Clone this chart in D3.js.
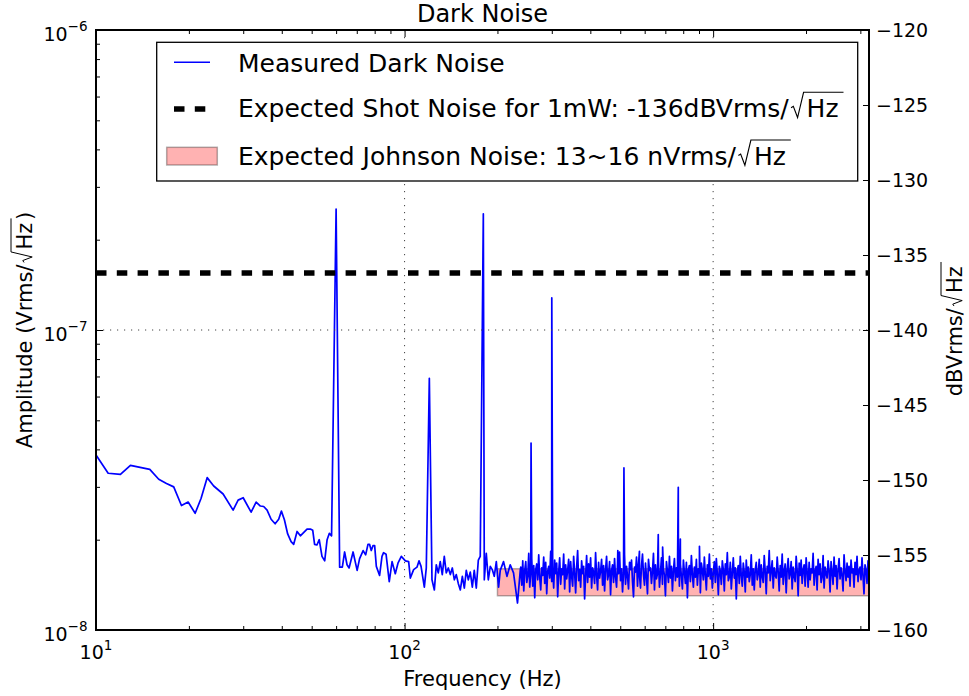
<!DOCTYPE html>
<html>
<head>
<meta charset="utf-8">
<script src="https://cdn.jsdelivr.net/npm/d3@7"></script>
<style>
body { margin: 0; background: #fff; }
svg { display: block; }
text { font-family: "DejaVu Sans", sans-serif; fill: #000; }
</style>
</head>
<body>
<svg id="chart" width="969" height="696"></svg>
<script>
// measured spectrum below ~240 Hz (Hz, nVrms/rtHz)
var lowFreq = [10, 10.95, 12.0, 12.93, 14.94, 15.97, 16.92, 17.86, 18.92, 19.89,
  20.96, 21.91, 22.92, 24.07, 25.82, 27.82, 28.88, 29.99, 31.82, 33.03,
  34.10, 34.95, 35.85, 36.94, 38.06, 39.09, 39.89, 40.79, 41.8, 42.88,
  43.72, 44.84, 45.95, 48.3, 49.5, 50.4, 51.1, 52.0, 52.9, 54.0,
  55.1, 56.1, 57.05, 58.0, 61.6, 62.85, 63.93, 65.1, 66.1, 68.1,
  70.2, 71.5, 73.4, 74.8, 76.1, 77.0, 78.0, 79.0, 80.0, 81.0,
  83.0, 84.5, 85.5, 87.1, 89.2, 91.1, 93.3, 95.2, 97.6, 100.6,
  103.1, 104.4, 107.0, 109.7, 111.4, 113.1, 115.9, 117.6, 122.7, 124.9,
  126.7, 128.6, 130.5, 132.5, 134.5, 136.5, 138.6, 140.7, 142.8, 145.0,
  147.1, 149.3, 151.6, 153.9, 156.2, 158.5, 160.9, 163.3, 165.8, 168.2,
  170.8, 173.4, 175.9, 181.3, 184.0, 186.8, 189.6, 192.4, 195.3, 198.3,
  201.7, 204.2, 209.3, 214.7, 220.0, 225.5, 232.3, 237.1];
var lowAmp = [38.3, 33.3, 33.0, 35.4, 34.3, 31.8, 30.8, 30.0, 26.0, 26.7,
  24.5, 27.5, 32.2, 30.2, 28.4, 25.1, 27.1, 27.6, 24.7, 26.7,
  25.9, 25.8, 25.1, 23.4, 22.6, 23.4, 24.9, 23.3, 20.9, 19.7,
  19.3, 21.3, 20.6, 21.7, 21.7, 21.5, 19.3, 19.2, 20.0, 17.6,
  17.0, 20.0, 21.0, 20.6, 16.2, 16.2, 18.2, 16.5, 16.1, 18.2,
  15.8, 17.3, 18.4, 17.8, 19.3, 19.3, 18.4, 19.1, 19.1, 16.3,
  15.2, 17.6, 18.1, 17.9, 14.5, 16.9, 15.4, 16.7, 17.6, 17.0,
  16.9, 14.9, 15.9, 16.2, 17.0, 16.3, 13.9, 16.1, 14.7, 13.6,
  16.5, 15.5, 16.9, 15.3, 17.6, 15.5, 16.1, 15.3, 16.1, 14.7,
  15.3, 14.3, 13.6, 15.1, 13.8, 15.8, 14.7, 15.6, 13.9, 15.8,
  13.8, 17.1, 17.6, 14.7, 18.0, 14.7, 16.3, 15.9, 15.1, 16.9,
  13.9, 15.8, 16.9, 15.1, 16.5, 15.5, 12.3, 15.8];

// line peaks (Hz, nVrms/rtHz)
var spikeFreq = [60, 120.3, 180, 257, 300, 491, 514, 577, 664, 686, 771, 783, 903];
var spikeAmp = [253, 69, 244, 42, 128, 18.4, 34.7, 18.3, 20.8, 18.9, 29.9, 20.1, 19.0];

// dense noise floor, spread evenly (log) from noiseStartHz to noiseEndHz
var noiseStartHz = 238, noiseEndHz = 3200;
var noiseAmp = [
  16.2, 14.1, 17.0, 13.5, 15.8, 16.9, 14.4, 15.1, 18.0, 13.9,
  15.5, 17.3, 14.0, 16.4, 12.8, 15.9, 16.6, 14.7, 17.8, 15.0,
  13.6, 16.1, 15.2, 17.5, 14.3, 16.8, 13.2, 15.7, 16.3, 14.9,
  18.3, 14.5, 15.9, 13.8, 17.1, 15.4, 16.7, 12.9, 15.6, 17.4,
  14.2, 16.0, 15.3, 17.9, 13.7, 16.5, 14.8, 15.8, 17.2, 13.4,
  16.9, 15.1, 14.0, 17.6, 15.5, 13.3, 16.2, 18.4, 14.6, 15.9,
  13.9, 17.0, 15.4, 16.3, 12.7, 15.2, 17.7, 14.4, 16.6, 15.0,
  17.4, 13.8, 16.1, 15.6, 14.3, 18.1, 15.2, 13.6, 16.8, 14.9,
  15.7, 17.2, 14.1, 16.4, 13.5, 15.9, 17.6, 14.7, 15.3, 16.9,
  13.1, 15.8, 16.5, 14.4, 17.3, 15.0, 13.9, 16.7, 15.4, 18.2,
  14.6, 16.0, 13.4, 15.5, 17.8, 14.2, 16.3, 15.1, 13.7, 16.8,
  15.9, 17.1, 14.5, 12.9, 16.2, 15.6, 17.5, 14.0, 16.6, 15.2,
  13.8, 16.4, 17.9, 15.3, 14.1, 16.7, 15.0, 13.2, 17.2, 15.8,
  16.1, 14.3, 15.7, 18.0, 13.6, 16.5, 14.8, 15.4, 17.0, 13.9,
  15.5, 17.4, 14.2, 16.0, 15.2, 13.0, 16.9, 15.7, 14.4, 17.6,
  14.9, 16.3, 13.5, 15.8, 17.3, 14.6, 16.1, 15.0, 18.3, 14.0,
  16.6, 15.1, 13.7, 17.1, 15.6, 14.3, 16.8, 12.8, 15.9, 16.4,
  14.5, 17.7, 15.3, 13.9, 16.2, 15.0, 17.2, 14.1, 16.0, 15.5,
  13.3, 16.7, 15.8, 14.7, 17.5, 15.2, 13.6, 16.5, 15.1, 17.9,
  14.8, 16.0, 13.8, 15.6, 16.9, 14.4, 17.3, 15.4, 13.1, 16.3,
  15.7, 14.2, 17.0, 15.9, 13.5, 16.6, 15.3, 18.1, 14.6, 15.0,
  16.8, 13.7, 15.5, 17.4, 14.9, 16.1, 12.7, 15.8, 16.4, 14.3,
  17.6, 15.2, 14.0, 16.7, 15.6, 13.4, 17.1, 15.0, 16.2, 14.5,
  15.3, 17.8, 14.1, 16.0, 13.6, 15.9, 16.8, 14.7, 15.4, 17.2,
  13.9, 16.5, 15.1, 14.4, 17.7, 15.7, 13.2, 16.3, 15.5, 18.4,
  14.6, 15.8, 17.0, 13.8, 16.1, 15.2, 14.9, 17.5, 15.6, 13.5,
  16.4, 15.0, 17.9, 14.2, 15.7, 16.6, 13.3, 15.9, 17.3, 14.8,
  15.4, 16.9, 13.7, 16.2, 15.1, 14.5, 17.6, 15.8, 13.0, 16.7,
  15.2, 17.1, 14.3, 15.9, 16.5, 14.0, 17.4, 15.6, 13.9, 16.8,
  14.7, 16.0, 15.5, 18.0, 14.1, 15.7, 16.3, 13.6, 17.2, 15.3,
  16.6, 14.4, 15.0, 17.7, 13.8, 16.2, 15.4, 14.9, 17.0, 15.8,
  13.4, 16.9, 15.6, 14.2, 17.5, 15.1, 16.4, 13.7, 15.9, 17.3,
  14.8, 16.1, 15.2, 13.5, 17.8, 15.7, 14.6, 16.7, 15.0, 16.3,
  14.0, 17.1, 15.5, 16.0, 13.9, 16.8, 15.3, 17.6, 14.5, 15.8,
  16.2, 14.7, 17.4, 15.1, 13.2, 16.5, 15.9, 14.3, 17.0, 15.6];

var shotNoiseDb = -136.2;        // dBVrms/rtHz (legend rounds to -136)
var johnsonRange = [13, 16];     // nVrms/rtHz
var johnsonStartHz = 200;
var freqRange = [10, 3200];
var ampRange = [1e-8, 1e-6];
var dbTicks = [-120, -125, -130, -135, -140, -145, -150, -155, -160];
var legendText = ["Measured Dark Noise",
  "Expected Shot Noise for 1mW: -136dBVrms/",
  "Expected Johnson Noise: 13~16 nVrms/"];

var L = 96, R = 869, T = 30, B = 630;
var svg = d3.select("#chart");

var x = d3.scaleLog().domain(freqRange).range([L, R]);
var y = d3.scaleLog().domain(ampRange).range([B, T]);
var yDb = d3.scaleLinear().domain([-160, -120]).range([B, T]);

// put the pieces of the spectrum together
var series = [];
lowFreq.forEach(function (f, i) { series.push([f, lowAmp[i] * 1e-9]); });
var n = noiseAmp.length;
noiseAmp.forEach(function (v, i) {
  series.push([noiseStartHz * Math.pow(noiseEndHz / noiseStartHz, i / (n - 1)), v * 1e-9]);
});
spikeFreq.forEach(function (f, i) { series.push([f, spikeAmp[i] * 1e-9]); });
series.sort(function (a, b) { return a[0] - b[0]; });

svg.append("defs").append("clipPath").attr("id", "plotclip")
  .append("rect").attr("x", L).attr("y", T).attr("width", R - L).attr("height", B - T);

var plot = svg.append("g").attr("clip-path", "url(#plotclip)");

// Johnson band
var area = d3.area()
  .x(function (d) { return x(d); })
  .y0(y(johnsonRange[0] * 1e-9))
  .y1(y(johnsonRange[1] * 1e-9));
plot.append("path").datum([johnsonStartHz, freqRange[1]])
  .attr("d", area)
  .attr("fill", "rgba(255,0,0,0.3)")
  .attr("stroke", "rgba(0,0,0,0.3)")
  .attr("stroke-width", 1.5);

// measured noise
var line = d3.line().x(function (d) { return x(d[0]); }).y(function (d) { return y(d[1]); });
plot.append("path").datum(series)
  .attr("d", line)
  .attr("fill", "none")
  .attr("stroke", "#0000ff")
  .attr("stroke-width", 1.7)
  .attr("stroke-linejoin", "round");

// shot noise level
var shotV = Math.pow(10, shotNoiseDb / 20);
plot.append("path").datum(freqRange.map(function (f) { return [f, shotV]; }))
  .attr("d", line)
  .attr("fill", "none")
  .attr("stroke", "#000")
  .attr("stroke-width", 5.5)
  .attr("stroke-dasharray", "10.5,10.3");

// grid at major decades
var grid = svg.append("g").attr("stroke", "#444").attr("stroke-width", 1).attr("stroke-dasharray", "1.2,5.8");
[100, 1000].forEach(function (f) {
  grid.append("line").attr("x1", x(f)).attr("x2", x(f)).attr("y1", T).attr("y2", B);
});
[1e-7].forEach(function (v) {
  grid.append("line").attr("x1", L).attr("x2", R).attr("y1", y(v)).attr("y2", y(v));
});

// ticks
function isMajor(v) { return Math.abs(Math.log10(v) - Math.round(Math.log10(v))) < 1e-6; }
var xAll = x.ticks();
var xMaj = xAll.filter(isMajor), xMin = xAll.filter(function (v) { return !isMajor(v); });
var yAll = y.ticks();
var yMaj = yAll.filter(isMajor), yMin = yAll.filter(function (v) { return !isMajor(v); });

function tickGroup(axis, tx, ty) {
  var g = svg.append("g").attr("transform", "translate(" + tx + "," + ty + ")").call(axis);
  g.select(".domain").remove();
  g.selectAll("line").attr("stroke", "#000").attr("stroke-width", 1);
  return g;
}
tickGroup(d3.axisBottom(x).tickValues(xMaj).tickSize(-7).tickFormat(""), 0, B);
tickGroup(d3.axisBottom(x).tickValues(xMin).tickSize(-4).tickFormat(""), 0, B);
tickGroup(d3.axisTop(x).tickValues(xMaj).tickSize(-7).tickFormat(""), 0, T);
tickGroup(d3.axisTop(x).tickValues(xMin).tickSize(-4).tickFormat(""), 0, T);
tickGroup(d3.axisLeft(y).tickValues(yMaj).tickSize(-7).tickFormat(""), L, 0);
tickGroup(d3.axisLeft(y).tickValues(yMin).tickSize(-4).tickFormat(""), L, 0);

var rightAxis = tickGroup(d3.axisRight(yDb).tickValues(dbTicks).tickSize(-6).tickPadding(7), R, 0);
rightAxis.attr("font-family", null).attr("font-size", null);
rightAxis.selectAll("text").style("font-size", "19px").attr("dy", "0.36em");

// power-of-ten labels
function powLabel(g, px, py, exp, anchor) {
  var t = g.append("text").attr("x", px).attr("y", py).attr("text-anchor", anchor).style("font-size", "19px");
  t.append("tspan").text("10");
  t.append("tspan").attr("dy", -9.5).style("font-size", "13.5px").text(String(exp).replace("-", "\u2212"));
  return t;
}
var labels = svg.append("g");
xMaj.forEach(function (f) { powLabel(labels, x(f), 659.3, Math.round(Math.log10(f)), "middle"); });
yMaj.forEach(function (v) { powLabel(labels, 87.5, y(v) + 10.7, Math.round(Math.log10(v)), "end"); });

// text with a drawn square root over "Hz"
function sqrtLabel(parent, px, py, size, before, after, anchor) {
  var g = parent.append("g");
  var end = 0;
  if (before) {
    var t1 = g.append("text").attr("x", 0).attr("y", 0).style("font-size", size + "px").text(before);
    end = t1.node().getComputedTextLength();
  }
  var rx = end + 0.1 * size;
  var hx = rx + 0.62 * size;
  var t2 = g.append("text").attr("x", hx).attr("y", 0).style("font-size", size + "px").text("Hz");
  var w2 = t2.node().getComputedTextLength();
  var top = -1.0 * size;
  var d = "M" + rx + "," + (-0.38 * size) +
    "L" + (rx + 0.09 * size) + "," + (-0.44 * size) +
    "L" + (rx + 0.26 * size) + "," + (0.01 * size) +
    "L" + (rx + 0.5 * size) + "," + top +
    "L" + (hx + w2 + 0.2 * size) + "," + top;
  g.append("path").attr("d", d).attr("fill", "none").attr("stroke", "#000")
    .attr("stroke-width", Math.max(1, size * 0.045));
  end = hx + w2 + 0.12 * size;
  if (after) {
    var t3 = g.append("text").attr("x", end).attr("y", 0).style("font-size", size + "px").text(after);
    end += t3.node().getComputedTextLength();
  }
  var shift = anchor === "middle" ? -end / 2 : 0;
  g.attr("transform", "translate(" + (px + shift) + "," + py + ")");
  return g;
}

// axis titles
svg.append("text").attr("x", (L + R) / 2).attr("y", 685.7).attr("text-anchor", "middle")
  .style("font-size", "21px").text("Frequency (Hz)");
var yl = svg.append("g").attr("transform", "translate(32," + (T + B) / 2 + ") rotate(-90)");
sqrtLabel(yl, 0, 0, 21, "Amplitude (Vrms/", ")", "middle");
var yr = svg.append("g").attr("transform", "translate(962," + (T + B) / 2 + ") rotate(-90)");
sqrtLabel(yr, 0, 0, 21, "dBVrms/", "", "middle");

svg.append("text").attr("x", (L + R) / 2).attr("y", 21.5).attr("text-anchor", "middle")
  .style("font-size", "24px").text("Dark Noise");

// frame
svg.append("rect").attr("x", L).attr("y", T).attr("width", R - L).attr("height", B - T)
  .attr("fill", "none").attr("stroke", "#000").attr("stroke-width", 2);

// legend
var lg = svg.append("g");
lg.append("rect").attr("x", 156.7).attr("y", 42.3).attr("width", 701).attr("height", 138.7)
  .attr("fill", "#fff").attr("stroke", "#000").attr("stroke-width", 1.3);
lg.append("line").attr("x1", 174).attr("x2", 210).attr("y1", 62.3).attr("y2", 62.3)
  .attr("stroke", "#0000ff").attr("stroke-width", 1.5);
lg.append("line").attr("x1", 174).attr("x2", 210).attr("y1", 109).attr("y2", 109)
  .attr("stroke", "#000").attr("stroke-width", 5.5).attr("stroke-dasharray", "10.5,10.3");
lg.append("rect").attr("x", 166.7).attr("y", 147.3).attr("width", 50.6).attr("height", 17.7)
  .attr("fill", "rgba(255,0,0,0.3)").attr("stroke", "rgba(0,0,0,0.3)").attr("stroke-width", 1.5);
lg.append("text").attr("x", 238).attr("y", 71.7).style("font-size", "25px").text(legendText[0]);
sqrtLabel(lg, 238, 117.3, 25, legendText[1], "", "start");
sqrtLabel(lg, 238, 165, 25, legendText[2], "", "start");
</script>
</body>
</html>
